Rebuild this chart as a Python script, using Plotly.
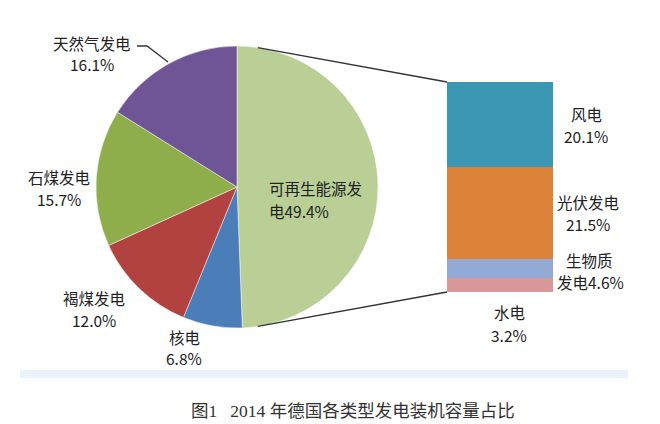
import math
import plotly.graph_objects as go

W, H = 660, 424

# ---------------- data ----------------
pie_labels = ["可再生能源发电", "核电", "褐煤发电", "石煤发电", "天然气发电"]
pie_values = [49.4, 6.8, 12.0, 15.7, 16.1]
pie_colors = ["#B9CF95", "#4B7DB8", "#B2423F", "#8EAE4C", "#6F5596"]

bar_labels = ["水电", "生物质发电", "光伏发电", "风电"]   # bottom -> top
bar_values = [3.2, 4.6, 21.5, 20.1]
bar_colors = ["#D9979A", "#93AAD6", "#DD8239", "#3C97B5"]

caption = "图1   2014 年德国各类型发电装机容量占比"

# ---------------- helpers ----------------
def px(x):
    return x / W

def py(y):
    return 1 - y / H

# geometry (pixels)
cx, cy, r = 237, 187, 141
bar_l, bar_r, bar_t, bar_b = 447, 553, 82, 292

fig = go.Figure()

fig.add_trace(go.Pie(
    labels=pie_labels, values=pie_values, sort=False, direction="clockwise",
    rotation=0, marker=dict(colors=pie_colors, line=dict(color="rgba(255,255,255,0.6)", width=0.8)),
    textinfo="none", hoverinfo="label+percent", showlegend=False,
    domain=dict(x=[px(cx - r), px(cx + r)], y=[py(cy + r), py(cy - r)]),
))

for lab_, val, col in zip(bar_labels, bar_values, bar_colors):
    fig.add_trace(go.Bar(
        x=[0], y=[val], name=lab_, width=1, marker=dict(color=col, line=dict(width=0)),
        xaxis="x", yaxis="y", showlegend=False, hoverinfo="name+y",
    ))

total = sum(bar_values)

FONT = "Noto Sans CJK SC, Microsoft YaHei, sans-serif"
TC = "#222222"
FS = 15.5

annotations = []

def lab(text, x, y, xanchor="center"):
    annotations.append(dict(
        text=text, x=px(x), xref="paper", y=py(y), yref="paper",
        xanchor=xanchor, yanchor="middle", showarrow=False,
        font=dict(family=FONT, size=FS, color=TC),
    ))

def blab(text, x, yval):
    annotations.append(dict(
        text=text, x=px(x), xref="paper", y=yval, yref="y",
        xanchor="center", yanchor="middle", showarrow=False,
        font=dict(family=FONT, size=FS, color=TC),
    ))

# pie labels
lab("天然气发电", 92, 43)
lab("16.1%", 92, 64)
lab("石煤发电", 59, 177)
lab("15.7%", 59, 199)
lab("褐煤发电", 94, 298)
lab("12.0%", 94, 320)
lab("核电", 184, 337)
lab("6.8%", 184, 358)
lab("可再生能源发", 267, 188, xanchor="left")
lab("电49.4%", 267, 211, xanchor="left")

# bar labels (vertical position from stacked values)
cum = [sum(bar_values[:i]) for i in range(len(bar_values))]
mid = [c + v / 2 for c, v in zip(cum, bar_values)]
lh = 11 * total / (bar_b - bar_t)  # half line height in data units
blab("风电", 586, mid[3] + lh)
blab("20.1%", 586, mid[3] - lh)
blab("光伏发电", 588, mid[2] + lh)
blab("21.5%", 588, mid[2] - lh)
lab("生物质", 589, 260)
lab("发电4.6%", 590, 282)
lab("水电", 509, 312)
lab("3.2%", 509, 335)

# caption
annotations.append(dict(
    text=caption, x=px(353), xref="paper", y=py(411), yref="paper",
    xanchor="center", yanchor="middle", showarrow=False,
    font=dict(family="Liberation Serif, Noto Sans CJK SC, serif", size=17.5, color="#333333"),
))

shapes = []
# leader line for 天然气
shapes.append(dict(type="path", xref="paper", yref="paper",
                   path=f"M {px(137)} {py(46)} L {px(147)} {py(46)} L {px(168)} {py(62)}",
                   line=dict(color="#333333", width=1.3)))
# connector lines pie -> bar
ang = math.radians(8.5)
sx = cx + r * math.sin(ang)
sy_top = cy - r * math.cos(ang)
sy_bot = cy + r * math.cos(ang)
shapes.append(dict(type="line", xref="paper", yref="paper",
                   x0=px(sx), y0=py(sy_top), x1=px(bar_l), y1=py(bar_t),
                   line=dict(color="#333333", width=1.3)))
shapes.append(dict(type="line", xref="paper", yref="paper",
                   x0=px(sx), y0=py(sy_bot), x1=px(bar_l), y1=py(bar_b),
                   line=dict(color="#333333", width=1.3)))
# light blue band
shapes.append(dict(type="rect", xref="paper", yref="paper", layer="below",
                   x0=px(20), x1=px(628), y0=py(378), y1=py(370),
                   fillcolor="#EAF2FB", line=dict(width=0)))

fig.update_layout(
    width=W, height=H, margin=dict(l=0, r=0, t=0, b=0),
    paper_bgcolor="white", plot_bgcolor="white",
    barmode="stack", bargap=0,
    xaxis=dict(domain=[px(bar_l), px(bar_r)], range=[-0.5, 0.5], visible=False, fixedrange=True),
    yaxis=dict(domain=[py(bar_b), py(bar_t)], range=[0, total], visible=False, fixedrange=True),
    annotations=annotations, shapes=shapes,
)

fig.write_html(
    "out.html",
    config={"displayModeBar": False},
    post_script="document.body.style.margin='0';document.body.style.overflow='hidden';",
)
